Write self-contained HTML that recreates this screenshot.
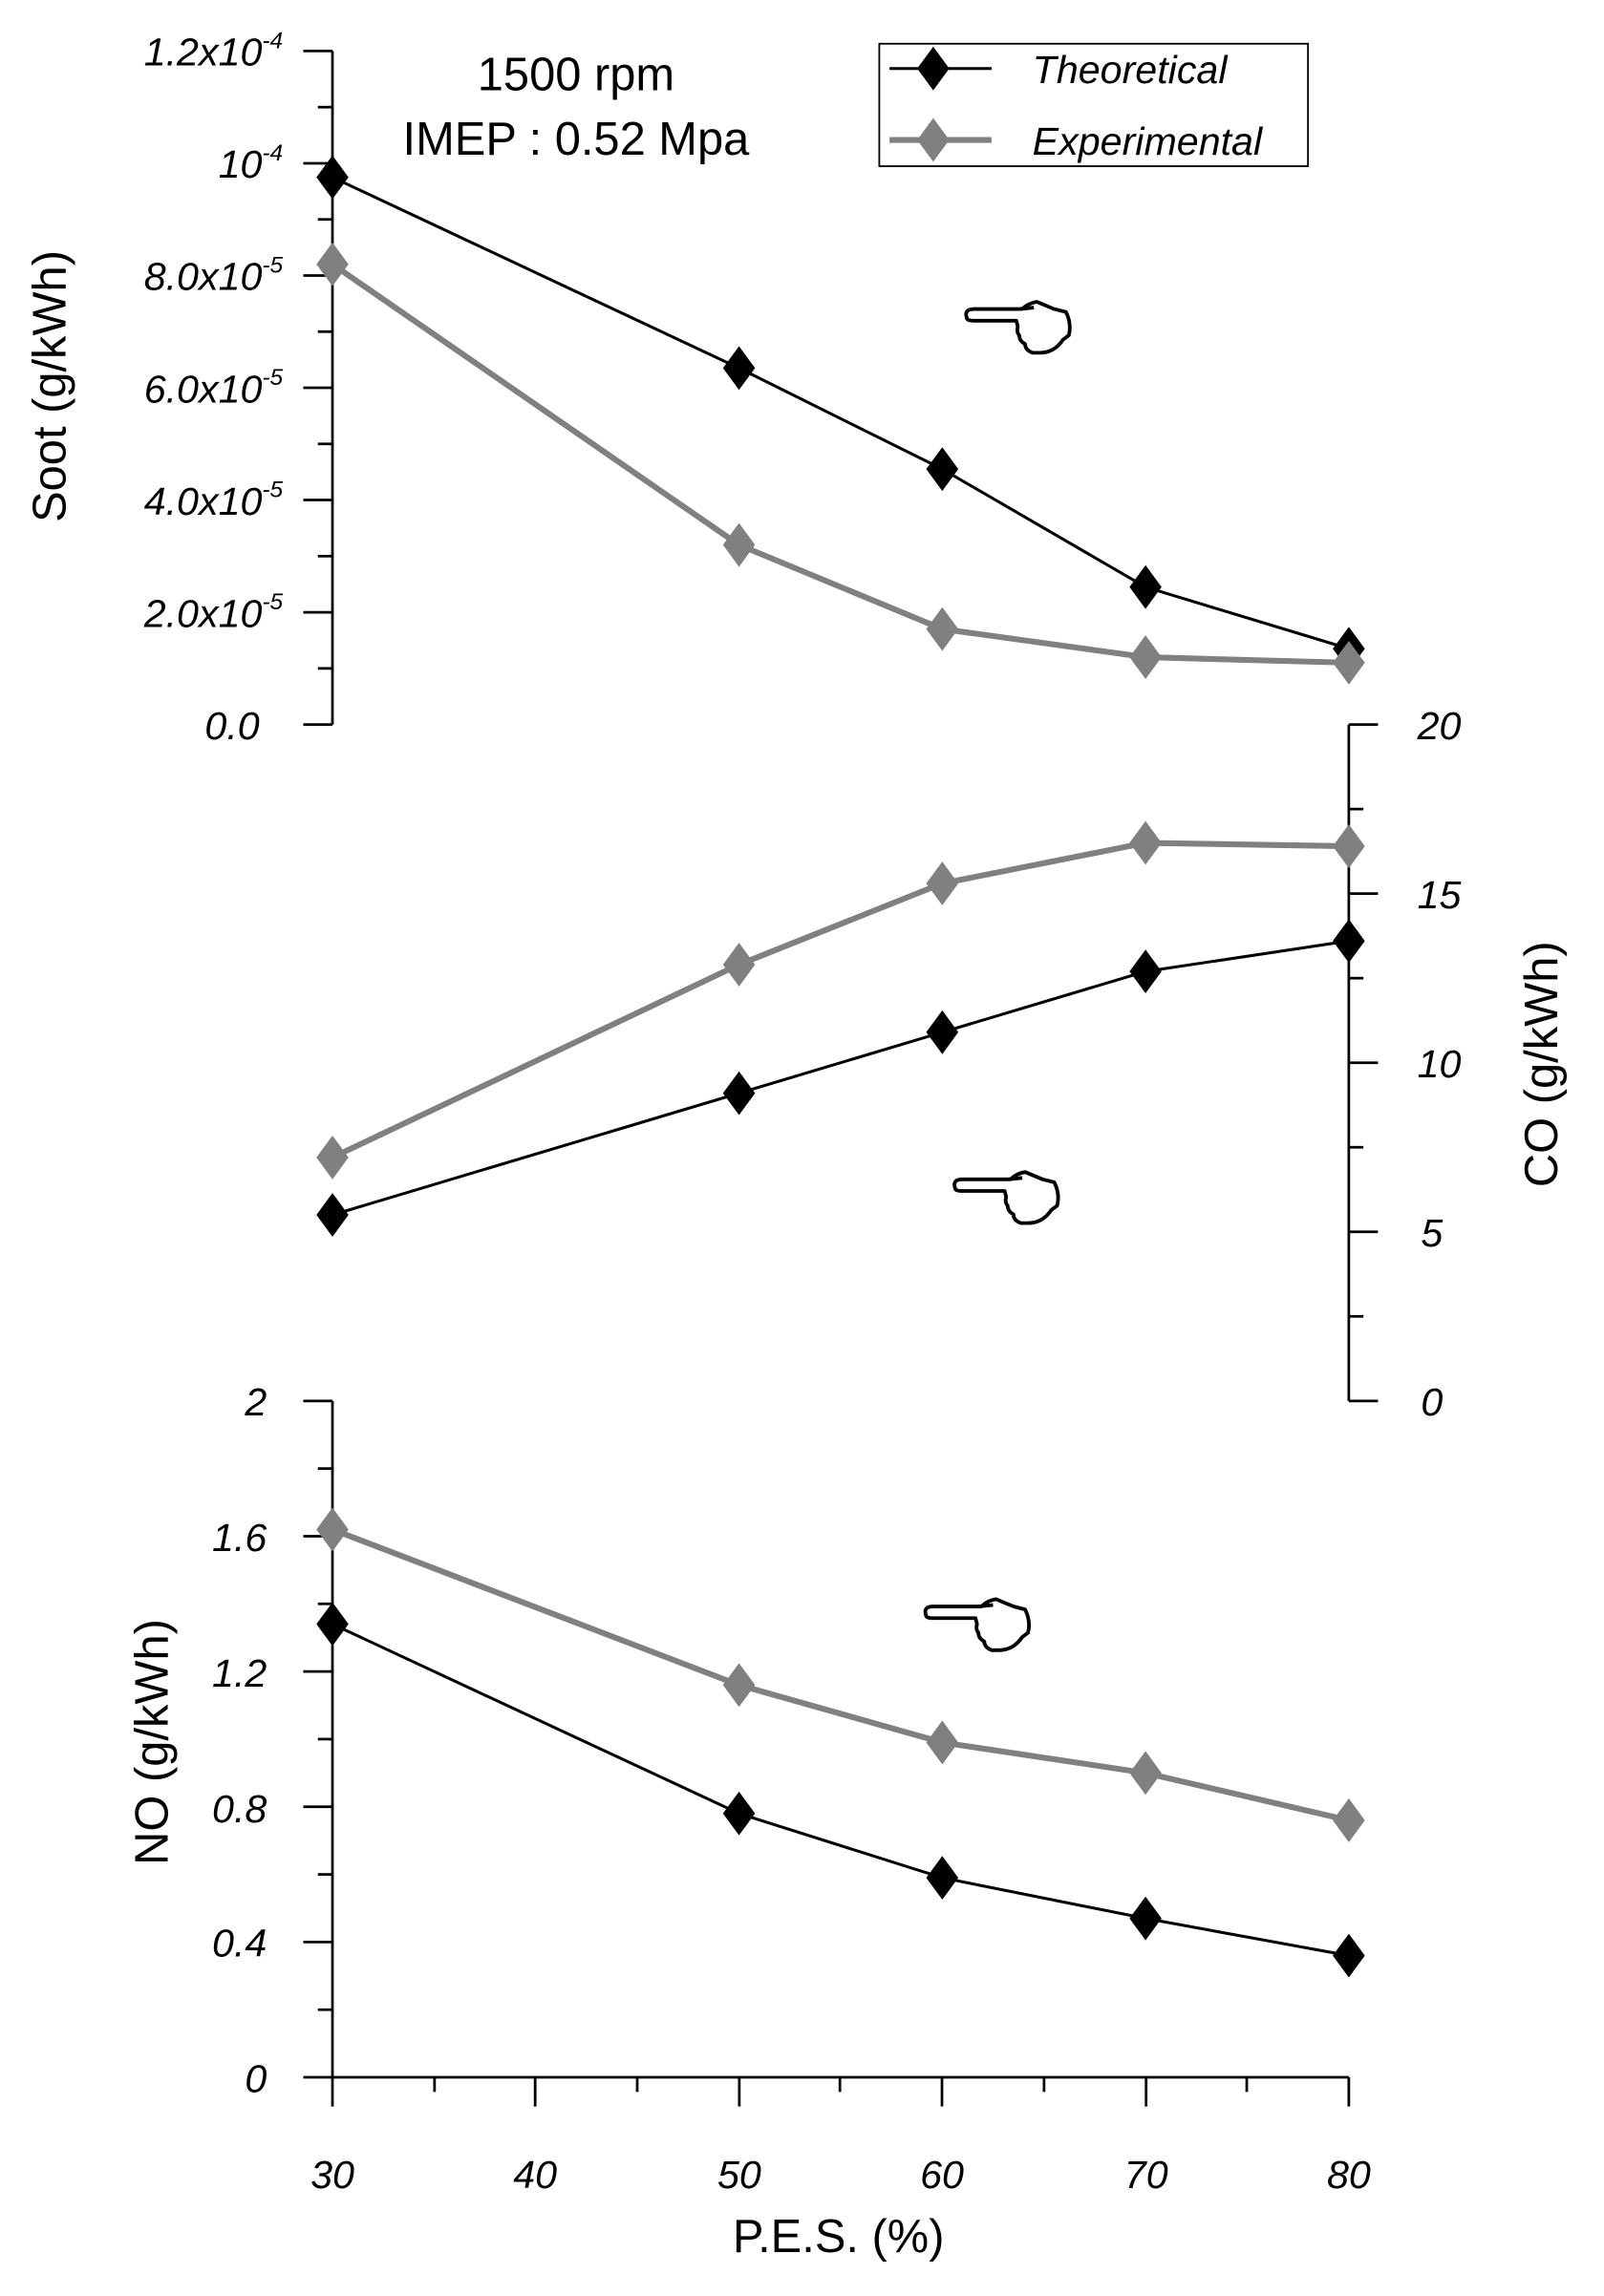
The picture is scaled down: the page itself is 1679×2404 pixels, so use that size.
<!DOCTYPE html>
<html><head><meta charset="utf-8"><style>
html,body{margin:0;padding:0;background:#fff;}
svg{display:block;}
text{font-family:"Liberation Sans Narrow","Liberation Sans",sans-serif;}
.t{font-style:italic;font-size:27px;}
.lab{font-family:"Liberation Sans",sans-serif;font-size:32px;}
</style></head><body>
<svg width="1679" height="2404" viewBox="0 0 1100 1575" preserveAspectRatio="none" xmlns="http://www.w3.org/2000/svg">
<defs>
<g id="hand"><path d="M0,0 Q-2,-6 5,-6 L38,-6 Q42,-10 48,-11 L60,-6 L68,-4 Q72,4 70,12 L66,15 Q60,24 50,24 L45,24 Q40,22 40,18 Q36,16 36,12 Q34,10 35,6 L34,2 L5,2 Q0,2 0,0 Z M36,-6 L46,-7" fill="none" stroke="#000" stroke-width="2.5" stroke-linejoin="round"/></g>
<path id="dk" d="M0,-15 L11,0 L0,15 L-11,0 Z" fill="#000"/>
<path id="dg" d="M0,-15 L11,0 L0,15 L-11,0 Z" fill="#808080"/>
</defs>
<g stroke="#000" stroke-width="1.8" fill="none">
<line x1="228" y1="35" x2="228" y2="497"/>
<line x1="208" y1="35" x2="228" y2="35"/><line x1="218" y1="73.5" x2="228" y2="73.5"/>
<line x1="208" y1="112" x2="228" y2="112"/><line x1="218" y1="150.5" x2="228" y2="150.5"/>
<line x1="208" y1="189" x2="228" y2="189"/><line x1="218" y1="227.5" x2="228" y2="227.5"/>
<line x1="208" y1="266" x2="228" y2="266"/><line x1="218" y1="304.5" x2="228" y2="304.5"/>
<line x1="208" y1="343" x2="228" y2="343"/><line x1="218" y1="381.5" x2="228" y2="381.5"/>
<line x1="208" y1="420" x2="228" y2="420"/><line x1="218" y1="458.5" x2="228" y2="458.5"/>
<line x1="208" y1="497" x2="228" y2="497"/>
<line x1="925" y1="497" x2="925" y2="961"/>
<line x1="925" y1="497" x2="945" y2="497"/><line x1="925" y1="555" x2="935" y2="555"/>
<line x1="925" y1="613" x2="945" y2="613"/><line x1="925" y1="671" x2="935" y2="671"/>
<line x1="925" y1="729" x2="945" y2="729"/><line x1="925" y1="787" x2="935" y2="787"/>
<line x1="925" y1="845" x2="945" y2="845"/><line x1="925" y1="903" x2="935" y2="903"/>
<line x1="925" y1="961" x2="945" y2="961"/>
<line x1="228" y1="961" x2="228" y2="1445"/>
<line x1="208" y1="961" x2="228" y2="961"/><line x1="218" y1="1007.4" x2="228" y2="1007.4"/>
<line x1="208" y1="1053.8" x2="228" y2="1053.8"/><line x1="218" y1="1100.2" x2="228" y2="1100.2"/>
<line x1="208" y1="1146.6" x2="228" y2="1146.6"/><line x1="218" y1="1193" x2="228" y2="1193"/>
<line x1="208" y1="1239.4" x2="228" y2="1239.4"/><line x1="218" y1="1285.8" x2="228" y2="1285.8"/>
<line x1="208" y1="1332.2" x2="228" y2="1332.2"/><line x1="218" y1="1378.6" x2="228" y2="1378.6"/>
<line x1="208" y1="1425" x2="925" y2="1425"/>
<line x1="298" y1="1425" x2="298" y2="1435"/><line x1="367" y1="1425" x2="367" y2="1445"/>
<line x1="437" y1="1425" x2="437" y2="1435"/><line x1="507" y1="1425" x2="507" y2="1445"/>
<line x1="576" y1="1425" x2="576" y2="1435"/><line x1="646" y1="1425" x2="646" y2="1445"/>
<line x1="716" y1="1425" x2="716" y2="1435"/><line x1="786" y1="1425" x2="786" y2="1445"/>
<line x1="855" y1="1425" x2="855" y2="1435"/><line x1="925" y1="1425" x2="925" y2="1445"/>
</g>
<g fill="none" stroke-linejoin="round">
<polyline points="228,181.3 506.8,373.8 646.2,431.5 785.6,450.8 925,454.6" stroke="#808080" stroke-width="4"/>
<polyline points="228,121.6 506.8,252.5 646.2,321.8 785.6,402.7 925,445" stroke="#000" stroke-width="2"/>
<polyline points="228,794 506.8,661.7 646.2,606 785.6,578.2 925,580.5" stroke="#808080" stroke-width="4"/>
<polyline points="228,833.4 506.8,749.9 646.2,708.1 785.6,666.4 925,645.5" stroke="#000" stroke-width="2"/>
<polyline points="228,1049.2 506.8,1155.9 646.2,1195.3 785.6,1216.2 925,1248.7" stroke="#808080" stroke-width="4"/>
<polyline points="228,1114.1 506.8,1244 646.2,1288.1 785.6,1316 925,1341.5" stroke="#000" stroke-width="2"/>
</g>
<g>
<use href="#dk" x="228" y="121.6"/><use href="#dk" x="506.8" y="252.5"/><use href="#dk" x="646.2" y="321.8"/><use href="#dk" x="785.6" y="402.7"/><use href="#dk" x="925" y="445"/>
<use href="#dg" x="228" y="181.3"/><use href="#dg" x="506.8" y="373.8"/><use href="#dg" x="646.2" y="431.5"/><use href="#dg" x="785.6" y="450.8"/><use href="#dg" x="925" y="454.6"/>
<use href="#dg" x="228" y="794"/><use href="#dg" x="506.8" y="661.7"/><use href="#dg" x="646.2" y="606"/><use href="#dg" x="785.6" y="578.2"/><use href="#dg" x="925" y="580.5"/>
<use href="#dk" x="228" y="833.4"/><use href="#dk" x="506.8" y="749.9"/><use href="#dk" x="646.2" y="708.1"/><use href="#dk" x="785.6" y="666.4"/><use href="#dk" x="925" y="645.5"/>
<use href="#dg" x="228" y="1049.2"/><use href="#dg" x="506.8" y="1155.9"/><use href="#dg" x="646.2" y="1195.3"/><use href="#dg" x="785.6" y="1216.2"/><use href="#dg" x="925" y="1248.7"/>
<use href="#dk" x="228" y="1114.1"/><use href="#dk" x="506.8" y="1244"/><use href="#dk" x="646.2" y="1288.1"/><use href="#dk" x="785.6" y="1316"/><use href="#dk" x="925" y="1341.5"/>
</g>
<g class="t" text-anchor="end">
<text x="194" y="45">1.2x10<tspan font-size="16" dy="-12">-4</tspan></text>
<text x="194" y="122">10<tspan font-size="16" dy="-12">-4</tspan></text>
<text x="194" y="199">8.0x10<tspan font-size="16" dy="-12">-5</tspan></text>
<text x="194" y="276">6.0x10<tspan font-size="16" dy="-12">-5</tspan></text>
<text x="194" y="353">4.0x10<tspan font-size="16" dy="-12">-5</tspan></text>
<text x="194" y="430">2.0x10<tspan font-size="16" dy="-12">-5</tspan></text>
<text x="178" y="507">0.0</text>
<text x="183" y="971">2</text>
<text x="183" y="1064">1.6</text>
<text x="183" y="1157">1.2</text>
<text x="183" y="1250">0.8</text>
<text x="183" y="1342">0.4</text>
<text x="183" y="1435">0</text>
</g>
<g class="t" text-anchor="middle">
<text x="987" y="507">20</text><text x="987" y="623">15</text><text x="987" y="739">10</text>
<text x="982" y="855">5</text><text x="982" y="971">0</text>
<text x="228" y="1501">30</text><text x="367" y="1501">40</text><text x="507" y="1501">50</text>
<text x="646" y="1501">60</text><text x="786" y="1501">70</text><text x="925" y="1501">80</text>
</g>
<text x="575" y="1545" text-anchor="middle" style="font-size:32px">P.E.S. (%)</text>
<text class="lab" transform="translate(45,265) rotate(-90)" text-anchor="middle">Soot (g/kWh)</text>
<text class="lab" transform="translate(1068,730) rotate(-90)" text-anchor="middle">CO (g/kWh)</text>
<text class="lab" transform="translate(115,1195) rotate(-90)" text-anchor="middle">NO (g/kWh)</text>
<text x="395" y="62" text-anchor="middle" style="font-size:32px">1500 rpm</text>
<text x="395" y="106" text-anchor="middle" style="font-size:32px">IMEP : 0.52 Mpa</text>
<rect x="603" y="30" width="294" height="84" fill="none" stroke="#000" stroke-width="1.2"/>
<line x1="610" y1="47" x2="680" y2="47" stroke="#000" stroke-width="2"/>
<use href="#dk" x="640" y="47"/>
<line x1="610" y1="96" x2="680" y2="96" stroke="#808080" stroke-width="4"/>
<use href="#dg" x="640" y="96"/>
<text class="t" x="708" y="57">Theoretical</text>
<text class="t" x="708" y="106">Experimental</text>
<use href="#hand" x="663" y="218"/>
<use href="#hand" x="655" y="815"/>
<use href="#hand" x="635" y="1108"/>
</svg>
</body></html>
